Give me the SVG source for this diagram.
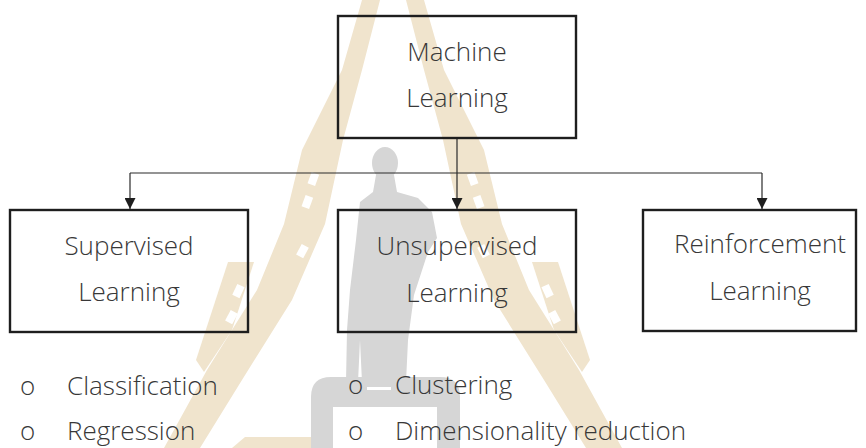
<svg xmlns="http://www.w3.org/2000/svg" width="866" height="448" viewBox="0 0 866 448">
  <style>
    .box { fill: none; stroke: #1e1e1e; stroke-width: 2.4; }
    .label { font-family: "Open Sans", "Liberation Sans", sans-serif; font-weight: 300; font-size: 26px; fill: #383838; text-anchor: middle; }
    .item { font-family: "Open Sans", "Liberation Sans", sans-serif; font-weight: 300; font-size: 26px; fill: #383838; }
    .link { fill: none; stroke: #2a2a2a; stroke-width: 1.2; }
    .tan { fill: #f0e4cd; }
    .hole { fill: #ffffff; }
    .stone { fill: #d6d6d6; }
  </style>
  <defs>
    <marker id="arrow" viewBox="0 0 10 10" refX="10" refY="5" markerWidth="11" markerHeight="11" markerUnits="userSpaceOnUse" orient="auto">
      <path d="M0,0 L10,5 L0,10 Z" fill="#1e1e1e"/>
    </marker>
    <!-- one half of the emblem; the other half is its mirror image -->
    <g id="emblem-half">
      <path class="tan" d="M362,0 L380,0 L362,70 L343,140 L325,224 L292,300 L242,380 L200,448 L164,448 L207,370 L257,290 L284,224 L302,150 L342,70 Z"/>
      <path class="tan" d="M228,262 L254,262 L232,330 L204,372 L196,360 Z"/>
      <rect class="hole" x="-5" y="-4" width="12" height="8" transform="translate(313,180) rotate(-70)"/>
      <rect class="hole" x="-5" y="-4" width="12" height="8" transform="translate(307,203) rotate(-70)"/>
      <rect class="hole" x="-5" y="-4" width="12" height="8" transform="translate(302,252) rotate(-62)"/>
      <rect class="hole" x="-5" y="-4" width="12" height="8" transform="translate(238,292) rotate(-65)"/>
      <rect class="hole" x="-5" y="-4" width="12" height="8" transform="translate(231,318) rotate(-62)"/>
    </g>
  </defs>

  <!-- faint background emblem -->
  <g id="emblem">
    <use href="#emblem-half"/>
    <use href="#emblem-half" transform="translate(786,0) scale(-1,1)"/>
    <path class="tan" d="M232,448 L245,437 L327,437 L322,448 Z"/>
    <!-- statue -->
    <ellipse class="stone" cx="385" cy="163" rx="13" ry="16"/>
    <path class="stone" d="M376,175 L394,175 L397,192 L418,198 L432,212 L437,238 L428,252 L414,295 L408,340 L406,382 L362,382 L360,340 L358,382 L346,382 L347,330 L350,290 L356,240 L360,202 L373,192 Z"/>
    <path class="stone" d="M311,448 L311,397 Q311,377 331,377 L440,377 Q460,377 460,397 L460,448 Z"/>
    <rect class="hole" x="333" y="407" width="104" height="41"/>
    <rect class="hole" x="367" y="387" width="24" height="3"/>
  </g>

  <!-- connectors -->
  <g id="connectors">
    <path class="link" d="M457,138 L457,209" marker-end="url(#arrow)"/>
    <path class="link" d="M130,173 L762,173"/>
    <path class="link" d="M130,173 L130,209" marker-end="url(#arrow)"/>
    <path class="link" d="M762,173 L762,209" marker-end="url(#arrow)"/>
  </g>

  <g id="machine-learning">
    <rect class="box" x="338" y="16" width="238" height="122"/>
    <text class="label" x="457" y="61">Machine</text>
    <text class="label" x="457" y="107">Learning</text>
  </g>

  <g id="supervised-learning">
    <rect class="box" x="10" y="210" width="238" height="122"/>
    <text class="label" x="129" y="255">Supervised</text>
    <text class="label" x="129" y="301">Learning</text>
  </g>

  <g id="unsupervised-learning">
    <rect class="box" x="338" y="210" width="238" height="122"/>
    <text class="label" x="457" y="255">Unsupervised</text>
    <text class="label" x="457" y="302">Learning</text>
  </g>

  <g id="reinforcement-learning">
    <rect class="box" x="643" y="210" width="213" height="121"/>
    <text class="label" x="760" y="253">Reinforcement</text>
    <text class="label" x="760" y="300">Learning</text>
  </g>

  <g id="supervised-tasks">
    <text class="item" x="20" y="395">o</text>
    <text class="item" x="67" y="395">Classification</text>
    <text class="item" x="20" y="440">o</text>
    <text class="item" x="67" y="440">Regression</text>
  </g>

  <g id="unsupervised-tasks">
    <text class="item" x="348" y="394">o</text>
    <text class="item" x="395" y="394">Clustering</text>
    <text class="item" x="348" y="440">o</text>
    <text class="item" x="395" y="440">Dimensionality reduction</text>
  </g>
</svg>
